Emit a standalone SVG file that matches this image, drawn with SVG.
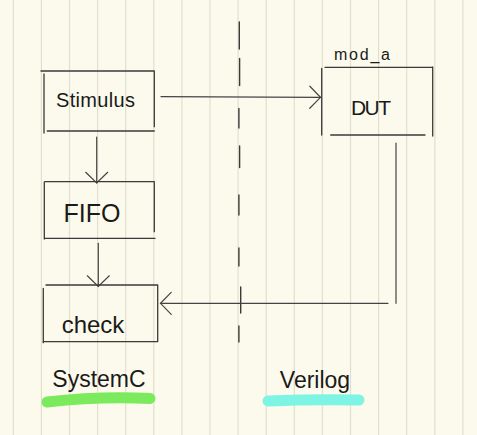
<svg xmlns="http://www.w3.org/2000/svg" width="477" height="435" viewBox="0 0 477 435">
<defs>
<style>
.grid{stroke:#e2dfcf;stroke-width:1.2}
.box{fill:none;stroke:#3a3a3a;stroke-width:1.3;stroke-linecap:round}
.conn{fill:none;stroke:#444;stroke-width:1.2;stroke-linecap:round}
.div{fill:none;stroke:#3a3a3a;stroke-width:1.4;stroke-linecap:round}
.t{font-family:"Liberation Sans","DejaVu Sans",sans-serif;fill:#1a1a1a;text-anchor:middle}
.hl{fill:none;stroke-width:11;stroke-linecap:round}
</style>
<marker id="arr" markerUnits="userSpaceOnUse" markerWidth="24" markerHeight="26" viewBox="-12 -13 24 26" refX="0" refY="0" orient="auto">
<path d="M-10.7,-11 L0,0 L-10.7,11" fill="none" stroke="#444" stroke-width="1.2" stroke-linecap="round"/>
</marker>
</defs>
<rect width="477" height="435" fill="#fcfaec"/>
<g id="grid">
<path class="grid" d="M13.3,0V435M41.4,0V435M69.5,0V435M97.6,0V435M125.7,0V435M153.8,0V435M181.9,0V435M210,0V435M238.1,0V435M266.2,0V435M294.3,0V435M322.4,0V435M350.5,0V435M378.6,0V435M406.7,0V435M434.8,0V435M462.9,0V435"/>
</g>
<g id="divider">
<path class="div" d="M239.3,22V49M239.6,58.5V85.5M238.9,108.5V128M239.6,146V167.5M238.9,195V215M238.9,248V266M240.7,287V313M238.9,326V342"/>
</g>
<g id="highlights">
<path class="hl" stroke="#7cea5d" d="M47,402 Q100,396 150,398.5"/>
<path class="hl" stroke="#7ef5e4" d="M268,401 Q314,399 359,400"/>
</g>
<g id="connectors">
<path class="conn" marker-end="url(#arr)" d="M161,96.7 L320.5,97.3"/>
<path class="conn" marker-end="url(#arr)" d="M96.7,137 V183"/>
<path class="conn" marker-end="url(#arr)" d="M98.3,243.3 V286.5"/>
<path class="conn" stroke="#111" d="M396,143 V303.3"/>
<path class="conn" marker-end="url(#arr)" d="M388,303.3 H160.5"/>
</g>
<g id="stimulus">
<path class="box" d="M41,71H154.3M44,74V133M154.3,71V126.7M47.3,131H154.3"/>
<text class="t" x="95.5" y="106.5" font-size="20" textLength="79" lengthAdjust="spacing">Stimulus</text>
</g>
<g id="fifo">
<path class="box" d="M45,181.7H154.3M44.3,182V239M154.3,182V231.7M45,238.3H155"/>
<text class="t" x="92" y="221.5" font-size="25">FIFO</text>
</g>
<g id="check">
<path class="box" d="M46,285H157.7M43.3,288.3V342.7M157.7,285V341.7M43,341.7H157.7"/>
<text class="t" x="93" y="332.5" font-size="24">check</text>
</g>
<g id="dut">
<path class="box" d="M325,67.3H432.7M321.7,68.3V135M432.7,67V136M330.7,135H425"/>
<text class="t" x="371" y="115" font-size="21" textLength="40" lengthAdjust="spacing">DUT</text>
<text class="t" x="362" y="59.5" font-size="16" textLength="56" lengthAdjust="spacing">mod_a</text>
</g>
<g id="labels">
<text class="t" x="99" y="386.5" font-size="23">SystemC</text>
<text class="t" x="315" y="388" font-size="23">Verilog</text>
</g>
</svg>
